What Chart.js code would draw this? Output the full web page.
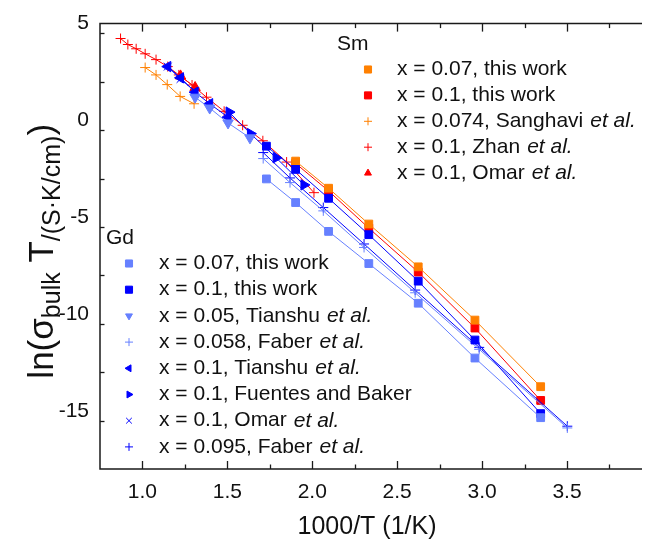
<!DOCTYPE html>
<html>
<head>
<meta charset="utf-8">
<title>Bulk conductivity Arrhenius plot</title>
<script src="https://cdn.jsdelivr.net/npm/chart.js@4/dist/chart.umd.min.js"></script>
<style>
  html, body { margin: 0; padding: 0; background: #ffffff; overflow: hidden; }
  #wrap { width: 647px; height: 545px; }
</style>
</head>
<body>
<div id="wrap"><canvas id="chart" width="647" height="545"></canvas></div>
<script>
// Axis ticks
const xTickValues = [1.0, 1.5, 2.0, 2.5, 3.0, 3.5];
const yTickValues = [5, 0, -5, -10, -15];

// Sm-doped series: 1000/T (1/K) and ln(sigma*T)
const smThisWork007X = [1.902, 2.096, 2.333, 2.624, 2.958, 3.345];
const smThisWork007Y = [-2.10, -3.50, -5.35, -7.56, -10.31, -13.75];
const smThisWork01X = [1.902, 2.096, 2.333, 2.624, 2.958, 3.345];
const smThisWork01Y = [-2.22, -3.64, -5.56, -7.83, -10.72, -14.46];
const smSanghaviX = [1.016, 1.080, 1.146, 1.222, 1.304];
const smSanghaviY = [2.73, 2.35, 1.85, 1.24, 0.86];
const smZhanX = [0.871, 0.914, 0.963, 1.016, 1.080, 1.149, 1.214, 1.292, 1.377, 1.481, 1.590, 1.709, 1.849, 2.010];
const smZhanY = [4.23, 3.92, 3.70, 3.44, 3.14, 2.78, 2.35, 1.83, 1.20, 0.47, -0.25, -1.05, -2.15, -3.73];
const smOmarX = [1.224, 1.310];
const smOmarY = [2.30, 1.70];

// Gd-doped series
const gdThisWork007X = [1.730, 1.902, 2.096, 2.333, 2.624, 2.958, 3.345];
const gdThisWork007Y = [-3.02, -4.24, -5.73, -7.39, -9.44, -12.27, -15.35];
const gdThisWork01X = [1.730, 1.902, 2.096, 2.333, 2.624, 2.958, 3.345];
const gdThisWork01Y = [-1.33, -2.53, -4.02, -5.90, -8.30, -11.34, -15.14];
const gdTianshu005X = [1.310, 1.396, 1.504, 1.633];
const gdTianshu005Y = [1.20, 0.64, -0.13, -0.90];
const gdFaber0058X = [1.711, 1.869, 2.065, 2.305, 2.606, 2.983, 3.502];
const gdFaber0058Y = [-1.97, -3.21, -4.67, -6.56, -8.90, -11.82, -15.88];
const gdTianshu01X = [1.149, 1.224, 1.310, 1.396, 1.504];
const gdTianshu01Y = [2.78, 2.20, 1.46, 0.86, 0.17];
const gdFuentesX = [1.510, 1.636, 1.787, 1.951];
const gdFuentesY = [0.43, -0.68, -1.93, -3.33];
const gdOmarX = [1.149, 1.224, 1.310];
const gdOmarY = [2.78, 2.14, 1.50];
const gdFaber0095X = [1.711, 1.869, 2.065, 2.305, 2.606, 2.983, 3.502];
const gdFaber0095Y = [-1.66, -2.97, -4.50, -6.38, -8.76, -11.72, -15.79];

const ORANGE = '#ff8000';
const RED = '#ff0000';
const BLUE = '#0000ff';
const LIGHT_BLUE = '#6680ff';

function pts(xs, ys) { return xs.map((v, i) => ({ x: v, y: ys[i] })); }

function series(label, xs, ys, color, style, radius, rotation, legendText) {
  return {
    label: label,
    data: pts(xs, ys),
    showLine: true,
    borderColor: color,
    backgroundColor: color,
    borderWidth: 1,
    pointStyle: style,
    pointRadius: radius,
    pointRotation: rotation || 0,
    pointBorderColor: color,
    pointBackgroundColor: color,
    pointBorderWidth: 1,
    legendText: legendText
  };
}

const gdSets = [
  series('x = 0.07, this work', gdThisWork007X, gdThisWork007Y, LIGHT_BLUE, 'rect', 5.5, 0, [['x = 0.07, this work', false]]),
  series('x = 0.1, this work', gdThisWork01X, gdThisWork01Y, BLUE, 'rect', 5.5, 0, [['x = 0.1, this work', false]]),
  series('x = 0.05, Tianshu et al.', gdTianshu005X, gdTianshu005Y, LIGHT_BLUE, 'triangle', 6, 180, [['x = 0.05, Tianshu', false], ['et al.', true]]),
  series('x = 0.058, Faber et al.', gdFaber0058X, gdFaber0058Y, LIGHT_BLUE, 'cross', 5, 0, [['x = 0.058, Faber', false], ['et al.', true]]),
  series('x = 0.1, Tianshu et al.', gdTianshu01X, gdTianshu01Y, BLUE, 'triangle', 6, -90, [['x = 0.1, Tianshu', false], ['et al.', true]]),
  series('x = 0.1, Fuentes and Baker', gdFuentesX, gdFuentesY, BLUE, 'triangle', 6, 90, [['x = 0.1, Fuentes and Baker', false]]),
  series('x = 0.1, Omar et al.', gdOmarX, gdOmarY, BLUE, 'crossRot', 5.5, 0, [['x = 0.1, Omar', false], ['et al.', true]]),
  series('x = 0.095, Faber et al.', gdFaber0095X, gdFaber0095Y, BLUE, 'cross', 5, 0, [['x = 0.095, Faber', false], ['et al.', true]])
];

const smSets = [
  series('x = 0.07, this work', smThisWork007X, smThisWork007Y, ORANGE, 'rect', 5.5, 0, [['x = 0.07, this work', false]]),
  series('x = 0.1, this work', smThisWork01X, smThisWork01Y, RED, 'rect', 5.5, 0, [['x = 0.1, this work', false]]),
  series('x = 0.074, Sanghavi et al.', smSanghaviX, smSanghaviY, ORANGE, 'cross', 5, 0, [['x = 0.074, Sanghavi', false], ['et al.', true]]),
  series('x = 0.1, Zhan et al.', smZhanX, smZhanY, RED, 'cross', 5, 0, [['x = 0.1, Zhan', false], ['et al.', true]]),
  series('x = 0.1, Omar et al.', smOmarX, smOmarY, RED, 'triangle', 6, 0, [['x = 0.1, Omar', false], ['et al.', true]])
];

const FONT = '"Liberation Sans", Arial, Helvetica, sans-serif';

// Frame (left, top, bottom) with inward major/minor ticks
const framePlugin = {
  id: 'frame',
  beforeDatasetsDraw(chart) {
    const { ctx, chartArea: a, scales } = chart;
    const sx = scales.x, sy = scales.y;
    ctx.save();
    ctx.strokeStyle = '#1a1a1a';
    ctx.lineWidth = 1.5;
    ctx.beginPath();
    ctx.moveTo(a.right + 2, a.top);
    ctx.lineTo(a.left, a.top);
    ctx.lineTo(a.left, a.bottom);
    ctx.lineTo(a.right + 2, a.bottom);
    ctx.stroke();
    ctx.lineWidth = 1.3;
    const seg = (x1, y1, x2, y2) => { ctx.beginPath(); ctx.moveTo(x1, y1); ctx.lineTo(x2, y2); ctx.stroke(); };
    const major = 8, minor = 4.5;
    for (let v = 0.75; v <= sx.max + 1e-9; v += 0.25) {
      const p = Math.round(sx.getPixelForValue(v)) + 0.5;
      if (p <= a.left + 1 || p >= a.right - 1) continue;
      const len = Math.abs(v * 2 - Math.round(v * 2)) < 1e-6 ? major : minor;
      seg(p, a.bottom, p, a.bottom - len);
      seg(p, a.top, p, a.top + len);
    }
    for (let v = sy.min; v <= sy.max + 1e-9; v += 2.5) {
      const p = Math.round(sy.getPixelForValue(v)) + 0.5;
      if (p <= a.top + 1 || p >= a.bottom - 1) continue;
      const len = Math.abs(v / 5 - Math.round(v / 5)) < 1e-6 ? major : minor;
      seg(a.left, p, a.left + len, p);
    }
    ctx.restore();
  },
  afterDraw(chart) {
    const ctx = chart.ctx;
    const a = chart.chartArea;
    ctx.save();
    ctx.fillStyle = '#111';
    // x-axis title
    ctx.font = '25px ' + FONT;
    ctx.textAlign = 'center';
    ctx.textBaseline = 'middle';
    ctx.fillText('1000/T (1/K)', 367, 527);
    ctx.textAlign = 'left';
    // y-axis title with subscripts, rotated
    ctx.translate(53, (a.top + a.bottom) / 2 + 5);
    ctx.rotate(-Math.PI / 2);
    ctx.textBaseline = 'alphabetic';
    const big = '35px ' + FONT, small = '25px ' + FONT;
    const parts = [['ln(\u03c3', big, 0], ['bulk', small, 7], [' T', big, 0], ['/(S\u00b7K/cm)', small, 7], [')', big, 0]];
    let total = 0;
    parts.forEach(p => { ctx.font = p[1]; total += ctx.measureText(p[0]).width; });
    let cx = -total / 2;
    parts.forEach(p => { ctx.font = p[1]; ctx.fillText(p[0], cx, p[2]); cx += ctx.measureText(p[0]).width; });
    ctx.restore();

    // two legends
    drawLegend(ctx, 'Sm', 337, 44, 368, 397, 69.5, 25.9, smSets);
    drawLegend(ctx, 'Gd', 106, 238, 129, 159, 263.5, 26.2, gdSets);
  }
};

function drawLegend(ctx, header, hx, hy, mx, tx, y0, dy, sets) {
  ctx.save();
  ctx.fillStyle = '#111';
  ctx.textBaseline = 'middle';
  ctx.textAlign = 'left';
  ctx.font = '21px ' + FONT;
  ctx.fillText(header, hx, hy);
  sets.forEach((ds, i) => {
    const y = y0 + i * dy;
    ctx.fillStyle = ds.borderColor;
    ctx.strokeStyle = ds.borderColor;
    ctx.lineWidth = 1;
    Chart.helpers.drawPoint(ctx, {
      pointStyle: ds.pointStyle,
      radius: ds.pointStyle === 'rect' ? 5 : 4,
      rotation: ds.pointRotation,
      borderWidth: 1
    }, mx, y);
    ctx.fillStyle = '#111';
    let x = tx;
    ds.legendText.forEach((part, j) => {
      if (j > 0) x += 7;
      ctx.font = (part[1] ? 'italic ' : '') + '21px ' + FONT;
      ctx.fillText(part[0], x, y);
      x += ctx.measureText(part[0]).width;
    });
  });
  ctx.restore();
}

new Chart(document.getElementById('chart'), {
  type: 'scatter',
  data: { datasets: gdSets.concat(smSets) },
  options: {
    responsive: false,
    animation: false,
    devicePixelRatio: 1,
    layout: { padding: { top: 21, right: 0, left: 0, bottom: 0 } },
    plugins: { legend: { display: false }, tooltip: { enabled: false } },
    scales: {
      x: {
        type: 'linear', min: 0.75, max: 3.93,
        afterBuildTicks: s => { s.ticks = xTickValues.map(v => ({ value: v })); },
        afterFit: s => { s.height = 76; },
        grid: { display: false, drawTicks: false },
        border: { display: false },
        ticks: { font: { family: FONT, size: 21 }, color: '#111', padding: 11, maxRotation: 0,
                 callback: v => Number(v).toFixed(1) }
      },
      y: {
        type: 'linear', min: -18, max: 5,
        afterBuildTicks: s => { s.ticks = yTickValues.map(v => ({ value: v })); },
        afterFit: s => { s.width = 100; },
        grid: { display: false, drawTicks: false },
        border: { display: false },
        ticks: { font: { family: FONT, size: 21 }, color: '#111', padding: 11,
                 callback: v => String(v) }
      }
    }
  },
  plugins: [framePlugin]
});
</script>
</body>
</html>
